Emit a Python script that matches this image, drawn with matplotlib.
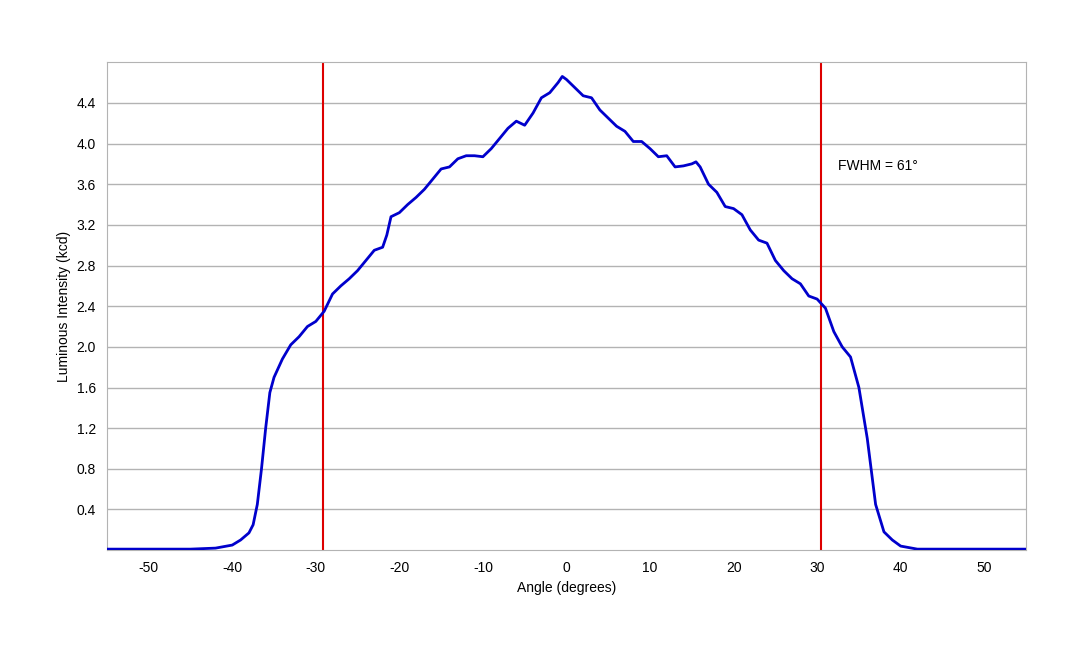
import matplotlib.pyplot as plt

plt.rcParams['font.family'] = ['Liberation Sans', 'DejaVu Sans']
plt.rcParams['axes.unicode_minus'] = False

angle = [-55, -45, -42, -40, -39, -38, -37.5, -37, -36.5, -36, -35.5, -35, -34, -33, -32, -31,
         -30, -29, -28, -27, -26, -25, -24, -23, -22, -21.5, -21, -20, -19, -18, -17, -16,
         -15, -14, -13, -12, -11, -10, -9, -8, -7, -6, -5, -4, -3, -2, -1, -0.5, 0, 1, 2, 3,
         4, 5, 6, 7, 8, 9, 10, 11, 12, 13, 14, 15, 15.5, 16, 17, 18, 19, 20, 21, 22, 23, 24,
         25, 26, 27, 28, 29, 30, 31, 32, 33, 34, 35, 36, 37, 38, 39, 40, 42, 55]
intensity = [0.01, 0.01, 0.02, 0.05, 0.10, 0.17, 0.25, 0.45, 0.80, 1.20, 1.55, 1.70, 1.88,
             2.02, 2.10, 2.20, 2.25, 2.35, 2.52, 2.60, 2.67, 2.75, 2.85, 2.95, 2.98, 3.10,
             3.28, 3.32, 3.40, 3.47, 3.55, 3.65, 3.75, 3.77, 3.85, 3.88, 3.88, 3.87, 3.95,
             4.05, 4.15, 4.22, 4.18, 4.30, 4.45, 4.50, 4.60, 4.66, 4.63, 4.55, 4.47, 4.45,
             4.33, 4.25, 4.17, 4.12, 4.02, 4.02, 3.95, 3.87, 3.88, 3.77, 3.78, 3.80, 3.82,
             3.77, 3.60, 3.52, 3.38, 3.36, 3.30, 3.15, 3.05, 3.02, 2.85, 2.75, 2.67, 2.62,
             2.50, 2.47, 2.38, 2.15, 2.00, 1.90, 1.60, 1.10, 0.45, 0.18, 0.10, 0.04, 0.01, 0.01]
fwhm_lines = [-29.1, 30.5]
x_ticks = list(range(-50, 51, 10))
y_ticks = [0.4, 0.8, 1.2, 1.6, 2.0, 2.4, 2.8, 3.2, 3.6, 4.0, 4.4]

fig = plt.figure(figsize=(10.8, 6.48), dpi=100)
ax = fig.add_axes([0.099, 0.151, 0.851, 0.753])

ax.plot(angle, intensity, color='#0000cc', lw=2, zorder=3)
for x in fwhm_lines:
    ax.axvline(x, color='#dd0000', lw=1.5, zorder=2)
ax.text(32.5, 3.78, 'FWHM = 61°', fontsize=10, va='center')

ax.set_xlim(-55, 55)
ax.set_ylim(0, 4.8)
ax.set_xticks(x_ticks)
ax.set_yticks(y_ticks)
ax.set_yticklabels([f'{v:.1f}' for v in y_ticks])
ax.tick_params(labelsize=10, length=0, pad=8)
ax.grid(axis='y', color='#b3b3b3', lw=1)
ax.set_axisbelow(True)
for s in ax.spines.values():
    s.set_color('#b3b3b3')
ax.set_xlabel('Angle (degrees)', fontsize=10)
ax.set_ylabel('Luminous Intensity (kcd)', fontsize=10)

fig.savefig('out.png', dpi=100)
